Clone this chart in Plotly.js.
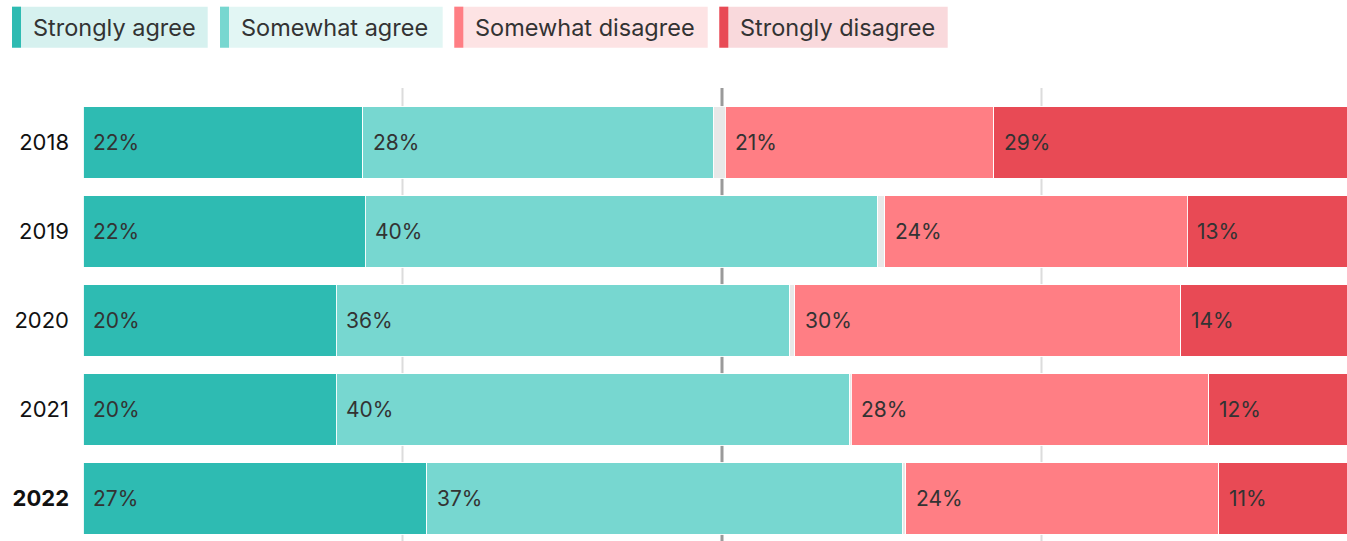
<!DOCTYPE html>
<html>
<head>
<meta charset="utf-8">
<script src="https://cdn.plot.ly/plotly-3.0.1.min.js"></script>
<style>
  html, body { margin: 0; padding: 0; overflow: hidden; background: #fff; }
  #chart { width: 1361px; height: 543px; }
</style>
</head>
<body>
<div id="chart"></div>
<script>
// ---- data ----
const years = ['2018', '2019', '2020', '2021', '2022'];
const yearLabels = ['2018', '2019', '2020', '2021', '<b>2022</b>'];
const seriesNames = ['Strongly agree', 'Somewhat agree', 'Somewhat disagree', 'Strongly disagree'];
const stronglyAgree    = [21.9, 22.1, 19.8, 19.8, 26.9];
const somewhatAgree    = [27.4, 40.1, 35.5, 40.2, 37.2];
const neutral          = [0.96, 0.52, 0.39, 0.1, 0.27];
const somewhatDisagree = [21.0, 23.7, 30.2, 28.0, 24.5];
const stronglyDisagree = [28.8, 13.6, 14.1, 11.9, 11.2];
const labelsStronglyAgree    = ['22%', '22%', '20%', '20%', '27%'];
const labelsSomewhatAgree    = ['28%', '40%', '36%', '40%', '37%'];
const labelsSomewhatDisagree = ['21%', '24%', '30%', '28%', '24%'];
const labelsStronglyDisagree = ['29%', '13%', '14%', '12%', '11%'];
const gridValues = [25, 50, 75];

// ---- styles ----
const colors = ['#2ebbb2', '#77d7d0', '#ff7e84', '#e84a55'];
const neutralColor = '#e8e8e8';
const legendBg = ['#d6f1ef', '#e2f6f4', '#fde3e4', '#f9d9dc'];
const FONT = 'Inter, "Open Sans", sans-serif';
const textColor = '#333333';

const W = 1361, H = 543, ML = 83, MT = 98, MR = 0, MB = 0;
const PW = W - ML - MR, PH = H - MT - MB;
const px2x = px => (px - ML) / PW;
const px2y = py => (H - MB - py) / PH;

const idx = years.map((_, i) => i);

const segs = [
  {name: seriesNames[0], vals: stronglyAgree, color: colors[0], labels: labelsStronglyAgree},
  {name: seriesNames[1], vals: somewhatAgree, color: colors[1], labels: labelsSomewhatAgree},
  {name: 'Neutral', vals: neutral, color: neutralColor, labels: null},
  {name: seriesNames[2], vals: somewhatDisagree, color: colors[2], labels: labelsSomewhatDisagree},
  {name: seriesNames[3], vals: stronglyDisagree, color: colors[3], labels: labelsStronglyDisagree}
];

const traces = segs.map(s => ({
  type: 'bar',
  orientation: 'h',
  y: idx,
  x: s.vals,
  name: s.name,
  width: 0.8,
  marker: {color: s.color, line: {color: 'rgba(255,255,255,0.9)', width: 1}},
  hoverinfo: 'skip',
  showlegend: false
}));

// labels positioned at the left edge of each segment
const annotations = [];
const cum = years.map(() => 0);
segs.forEach(s => {
  idx.forEach(i => {
    if (s.labels) {
      annotations.push({
        x: cum[i], y: i, xref: 'x', yref: 'y',
        text: s.labels[i], showarrow: false,
        xanchor: 'left', yanchor: 'middle', xshift: 8,
        font: {family: FONT, size: 21, color: textColor}
      });
    }
    cum[i] += s.vals[i];
  });
});

const shapes = [];
gridValues.forEach(v => {
  shapes.push({
    type: 'line', layer: 'below', xref: 'x', yref: 'paper',
    x0: v, x1: v, y0: 0, y1: px2y(88),
    line: {color: v === 50 ? '#9a9a9a' : '#dcdcdc', width: v === 50 ? 3 : 2}
  });
});

// custom legend
const legendBoxes = [[12, 207.7], [220, 442.7], [454.3, 707.7], [719.3, 947.7]];
const legTop = 6.7, legBot = 47.7;
seriesNames.forEach((n, k) => {
  const [a, b] = legendBoxes[k];
  shapes.push({type: 'rect', xref: 'paper', yref: 'paper',
    x0: px2x(a), x1: px2x(b), y0: px2y(legBot), y1: px2y(legTop),
    fillcolor: legendBg[k], line: {width: 0}});
  shapes.push({type: 'rect', xref: 'paper', yref: 'paper',
    x0: px2x(a), x1: px2x(a + 9), y0: px2y(legBot), y1: px2y(legTop),
    fillcolor: colors[k], line: {width: 0}});
  annotations.push({
    xref: 'paper', yref: 'paper', x: px2x(a + 19), y: px2y((legTop + legBot) / 2),
    text: n, showarrow: false, xanchor: 'left', yanchor: 'middle',
    font: {family: FONT, size: 23.5, color: textColor}
  });
});

const layout = {
  width: W, height: H,
  margin: {l: ML, r: MR, t: MT, b: MB, pad: 0},
  paper_bgcolor: '#ffffff', plot_bgcolor: '#ffffff',
  barmode: 'stack',
  showlegend: false,
  font: {family: FONT, color: textColor},
  xaxis: {range: [0, 100], showgrid: false, zeroline: false, showticklabels: false,
          ticks: '', fixedrange: true},
  yaxis: {range: [4.5, -0.5], tickmode: 'array', tickvals: idx, ticktext: yearLabels,
          ticks: '', showgrid: false, zeroline: false, showline: false, ticklabelstandoff: 13,
          tickfont: {family: FONT, size: 22, color: '#111111'}, fixedrange: true},
  shapes: shapes,
  annotations: annotations
};

Plotly.newPlot('chart', traces, layout, {displayModeBar: false, staticPlot: true});
</script>
</body>
</html>
